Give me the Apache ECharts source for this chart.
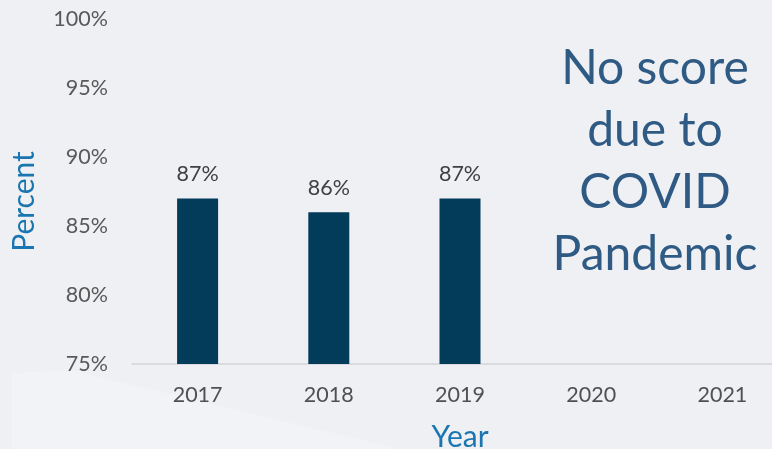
<!DOCTYPE html>
<html><head><meta charset="utf-8">
<script src="https://cdn.jsdelivr.net/npm/echarts@6/dist/echarts.min.js"></script>
<style>html,body{margin:0;padding:0;background:#eff0f4;}#c{width:772px;height:449px;}</style>
</head><body><div id="c"></div>
<script>
const years = ['2017', '2018', '2019', '2020', '2021'];
const scores = [87, 86, 87, null, null];
const yTicks = { min: 75, max: 100, step: 5 };
const note = 'No score\ndue to\nCOVID\nPandemic';

const chart = echarts.init(document.getElementById('c'));
chart.setOption({
  backgroundColor: '#eff0f4',
  animation: false,
  grid: { left: 132, top: 19, width: 656, height: 345, outerBoundsMode: 'none', containLabel: false },
  graphic: [
    { type: 'polygon', silent: true, z: 0,
      shape: { points: [[12, 373], [70, 370], [400, 449], [12, 449]] },
      style: { fill: 'rgba(255,255,255,0.2)' } },
    { type: 'text', z: 10, silent: true,
      style: { text: note, x: 655, y: 38, textAlign: 'center', textVerticalAlign: 'top',
        font: '48px Lato', lineHeight: 62, fill: '#2f5a84' } }
  ],
  xAxis: {
    type: 'category', data: years,
    name: 'Year', nameLocation: 'middle', nameGap: 58,
    nameTextStyle: { color: '#1a76b0', fontSize: 30, fontFamily: 'Lato' },
    axisLine: { lineStyle: { color: '#d4d4d6', width: 1.5 } },
    axisTick: { show: false },
    axisLabel: { color: '#505050', fontSize: 21.5, fontFamily: 'Lato', margin: 20 }
  },
  yAxis: {
    type: 'value', min: yTicks.min, max: yTicks.max, interval: yTicks.step,
    name: 'Percent', nameLocation: 'middle', nameGap: 93, nameRotate: 90,
    nameTextStyle: { color: '#1a76b0', fontSize: 30, fontFamily: 'Lato', padding: [0, 20, 0, 0] },
    axisLine: { show: false }, axisTick: { show: false }, splitLine: { show: false },
    axisLabel: { color: '#595959', fontSize: 21.5, fontFamily: 'Lato', margin: 24, formatter: '{value}%' }
  },
  series: [{
    type: 'bar', data: scores, barWidth: 41,
    itemStyle: { color: '#033b5b' },
    label: { show: true, position: 'top', distance: 13, color: '#404040', fontSize: 21.5, fontFamily: 'Lato', formatter: '{c}%' }
  }]
});
</script></body></html>
